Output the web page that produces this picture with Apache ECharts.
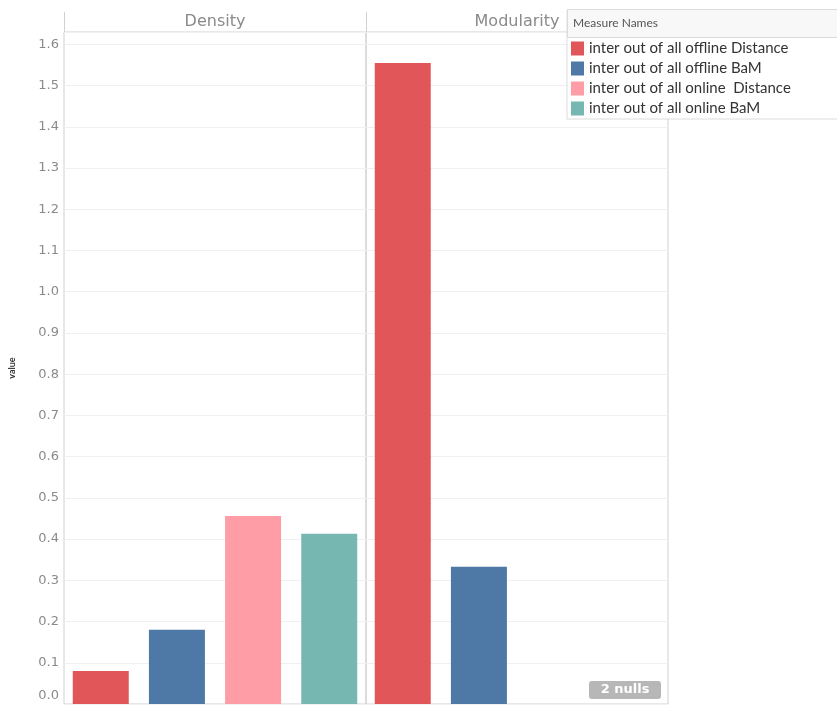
<!DOCTYPE html>
<html>
<head>
<meta charset="utf-8">
<script src="https://cdn.jsdelivr.net/npm/echarts@6/dist/echarts.min.js"></script>
<style>
  html, body { margin: 0; padding: 0; background: #fff; }
  #chart { width: 837px; height: 706px; }
</style>
</head>
<body>
<div id="chart"></div>
<script>
// Panels (column facets) and the measures drawn in each of them
const panels = ['Density', 'Modularity'];
const measures = [
  'inter out of all offline Distance',
  'inter out of all offline BaM',
  'inter out of all online  Distance',
  'inter out of all online BaM'
];
// One value per panel for each measure (null = no value)
const offlineDistance = [0.080, 1.555];
const offlineBaM = [0.180, 0.333];
const onlineDistance = [0.456, null];
const onlineBaM = [0.413, null];
const measureColors = ['#e15759', '#4e79a7', '#ff9da7', '#76b7b2'];
const nullCountText = '2 nulls';
const axisTitle = 'value';

const seriesValues = [offlineDistance, offlineBaM, onlineDistance, onlineBaM];

const FONT = 'Lato, "Noto Sans", sans-serif';
const AXIS_FONT = '"DejaVu Sans", sans-serif';
const panelLeft = [64, 366];
const panelWidth = 302;
const gridTop = 32;
const gridBottom = 2;

const chart = echarts.init(document.getElementById('chart'));

const grids = panels.map((p, i) => ({
  left: panelLeft[i],
  top: gridTop,
  width: panelWidth,
  bottom: gridBottom,
  show: true,
  borderColor: '#d0d0d0',
  borderWidth: 1,
  backgroundColor: 'transparent'
}));

const xAxes = panels.map((p, i) => ({
  type: 'category',
  gridIndex: i,
  data: [p],
  axisLine: { show: false },
  axisTick: { show: false },
  axisLabel: { show: false }
}));

const yAxes = panels.map((p, i) => ({
  type: 'value',
  gridIndex: i,
  min: 0,
  max: 1.63,
  interval: 0.1,
  name: i === 0 ? axisTitle : '',
  nameLocation: 'middle',
  nameRotate: 90,
  nameGap: 47,
  nameTextStyle: { fontFamily: FONT, fontSize: 9, color: '#333', fontWeight: 'bold' },
  axisLine: { show: false },
  axisTick: { show: false },
  splitLine: { show: true, lineStyle: { color: '#f0f0f0', width: 1 } },
  axisLabel: {
    show: i === 0,
    showMaxLabel: false,
    margin: 5,
    fontFamily: AXIS_FONT,
    fontSize: 13,
    color: '#8a8a8a',
    formatter: v => (v === 0 ? '{z|' + v.toFixed(1) + '}' : v.toFixed(1)),
    rich: { z: { fontFamily: AXIS_FONT, fontSize: 13, color: '#8a8a8a', padding: [0, 0, 16, 0] } }
  }
}));

const series = [];
panels.forEach((p, pi) => {
  measures.forEach((m, mi) => {
    series.push({
      type: 'bar',
      name: m,
      xAxisIndex: pi,
      yAxisIndex: pi,
      data: [seriesValues[mi][pi]],
      barWidth: 56,
      barGap: '36%',
      itemStyle: { color: measureColors[mi] },
      emphasis: { disabled: true }
    });
  });
});

// Facet headers, frame extensions, legend title and the null badge
const graphics = [];
panels.forEach((p, i) => {
  graphics.push({
    type: 'text',
    x: panelLeft[i] + panelWidth / 2,
    y: 22,
    z: 5,
    style: {
      text: p,
      align: 'center',
      verticalAlign: 'middle',
      fill: '#8a8a8a',
      font: '16px ' + AXIS_FONT
    }
  });
});
graphics.push({
  type: 'group',
  children: [64, 366, 668].map(x => ({
    type: 'line',
    shape: { x1: x + 0.5, y1: 12, x2: x + 0.5, y2: gridTop },
    style: { stroke: '#d0d0d0', lineWidth: 1 }
  }))
});
graphics.push({
  type: 'rect',
  shape: { x: 567.5, y: 9.5, width: 280, height: 28 },
  style: { fill: '#f8f8f8', stroke: '#dcdcdc', lineWidth: 1 },
  z: 10
});
graphics.push({
  type: 'text',
  x: 573, y: 17,
  z: 11,
  style: { text: 'Measure Names', fill: '#555', font: '12px ' + FONT }
});
graphics.push({
  type: 'group',
  x: 589, y: 681,
  z: 10,
  children: [
    { type: 'rect', shape: { x: 0, y: 0, width: 72, height: 18, r: 3 }, style: { fill: '#b7b7b7' } },
    { type: 'text', style: { text: nullCountText, x: 36, y: 9, align: 'center', verticalAlign: 'middle', fill: '#fff', font: 'bold 13px ' + AXIS_FONT } }
  ]
});

chart.setOption({
  animation: false,
  backgroundColor: '#fff',
  grid: grids,
  xAxis: xAxes,
  yAxis: yAxes,
  series: series,
  legend: {
    data: measures,
    orient: 'vertical',
    left: 567,
    top: 10,
    padding: [31, 60, 3, 4],
    itemGap: 5,
    itemWidth: 13,
    itemHeight: 14,
    icon: 'rect',
    selectedMode: false,
    backgroundColor: '#fff',
    borderColor: '#dcdcdc',
    borderWidth: 1,
    textStyle: { fontFamily: FONT, fontSize: 15, color: '#333' },
    z: 9
  },
  graphic: graphics
});
</script>
</body>
</html>
